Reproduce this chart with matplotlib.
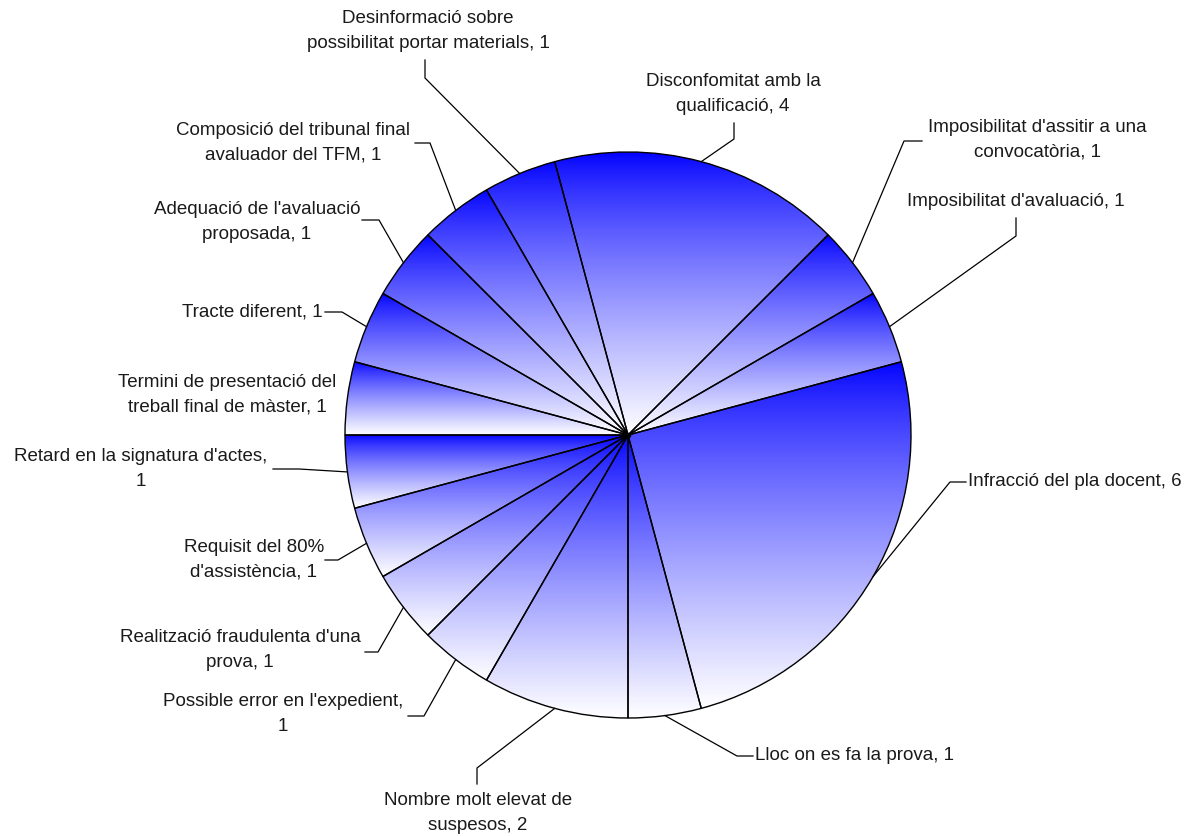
import numpy as np
import matplotlib
matplotlib.use("Agg")
import matplotlib.pyplot as plt

plt.rcParams['font.family'] = ['Liberation Sans', 'DejaVu Sans']

# dades (ordre horari, començant a dalt)
labels = [
    "Disconfomitat amb la\nqualificació, 4",
    "Imposibilitat d'assitir a una\nconvocatòria, 1",
    "Imposibilitat d'avaluació, 1",
    "Infracció del pla docent, 6",
    "Lloc on es fa la prova, 1",
    "Nombre molt elevat de\nsuspesos, 2",
    "Possible error en l'expedient,\n1",
    "Realització fraudulenta d'una\nprova, 1",
    "Requisit del 80%\nd'assistència, 1",
    "Retard en la signatura d'actes,\n1",
    "Termini de presentació del\ntreball final de màster, 1",
    "Tracte diferent, 1",
    "Adequació de l'avaluació\nproposada, 1",
    "Composició del tribunal final\navaluador del TFM, 1",
    "Desinformació sobre\npossibilitat portar materials, 1",
]
values = [4, 1, 1, 6, 1, 2, 1, 1, 1, 1, 1, 1, 1, 1, 1]

# posicions de les etiquetes en píxels (x, y, alineació)
label_pos = [
    (733, 94, "center"), (1037, 140, "center"), (1016, 201, "center"),
    (968, 482, "left"), (755, 756, "left"), (478, 813, "center"),
    (283, 714, "center"), (240, 650, "center"), (254, 560, "center"),
    (141, 469, "center"), (227, 395, "center"), (323, 312, "right"),
    (257, 222, "center"), (293, 143, "center"), (428, 31, "center"),
]
# colze i final de cada línia guia (px)
leaders = [
    ((734, 139), (734, 123)), ((904, 141), (922, 141)), ((1016, 236), (1016, 218)),
    ((950, 482), (966, 482)), ((737, 756), (753, 756)), ((477, 768), (477, 784)),
    ((424, 716), (408, 716)), ((378, 652), (365, 652)), ((338, 560), (325, 560)),
    ((299, 469), (273, 469)), None, ((342, 312), (325, 312)),
    ((379, 220), (362, 220)), ((430, 143), (415, 143)), ((425, 78), (425, 60)),
]

W, H = 1203, 836
CX, CY, R = 628, 435, 283


def px(x, y):
    return (x - CX) / R, (CY - y) / R


fig = plt.figure(figsize=(W / 100, H / 100), dpi=100)
ax = fig.add_axes([0, 0, 1, 1])

wedges, _ = ax.pie(values, startangle=105, counterclock=False, radius=1,
                   wedgeprops=dict(facecolor="none", edgecolor="black", linewidth=1.0, zorder=3))

# degradat vertical blau -> blanc dins de cada sector
n = 256
t = np.linspace(0, 1, n) ** 0.8
grad = np.zeros((n, 1, 3))
grad[:, 0, 0] = t
grad[:, 0, 1] = t
grad[:, 0, 2] = 1.0
for w in wedges:
    a = np.radians(np.linspace(w.theta1, w.theta2, 100))
    xs = np.concatenate([[0], np.cos(a) * w.r])
    ys = np.concatenate([[0], np.sin(a) * w.r])
    im = ax.imshow(grad, extent=[xs.min(), xs.max(), ys.min(), ys.max()],
                   origin="upper", aspect="auto", zorder=1, interpolation="bilinear")
    im.set_clip_path(w)

# etiquetes i línies guia
for w, lab, (lx, ly, ha), ld in zip(wedges, labels, label_pos, leaders):
    mid = np.radians((w.theta1 + w.theta2) / 2)
    ex, ey = np.cos(mid) * w.r, np.sin(mid) * w.r
    if ld is not None:
        (bx, by), (fx, fy) = px(*ld[0]), px(*ld[1])
        ax.plot([ex, bx, fx], [ey, by, fy], color="black", lw=0.9, zorder=4)
    tx, ty = px(lx, ly)
    ax.text(tx, ty, lab, ha=ha, va="center", multialignment="center",
            fontsize=13.5, color="#1a1a1a", linespacing=1.55)

ax.plot([0], [0], "o", color="black", markersize=3, zorder=5)

ax.set_xlim(-CX / R, (W - CX) / R)
ax.set_ylim(-(H - CY) / R, CY / R)
ax.set_aspect("auto")
ax.axis("off")

fig.savefig("out.png", dpi=100, facecolor="white")
